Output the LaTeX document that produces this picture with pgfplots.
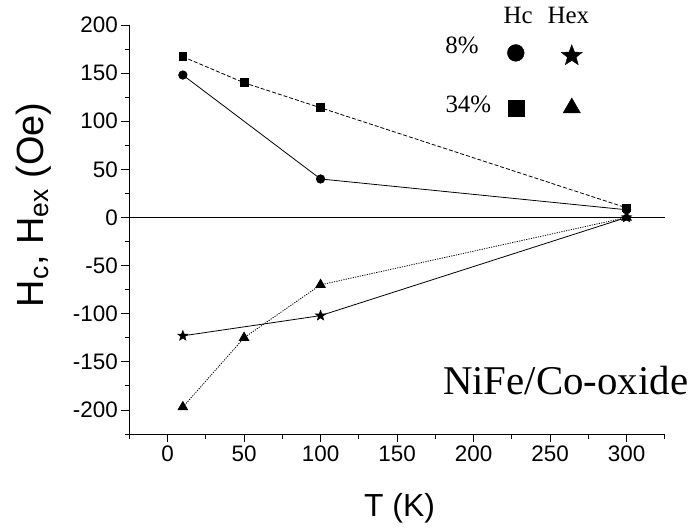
\documentclass[border=0pt]{standalone}
\usepackage{pgfplots}
\pgfplotsset{compat=1.18}
\usepackage{fontspec}
\setmainfont{Liberation Sans}
\newfontfamily\tnr{Liberation Serif}
\pgfdeclareplotmark{fstar}{%
  \pgfpathmoveto{\pgfpointpolar{90}{\pgfplotmarksize}}%
  \pgfpathlineto{\pgfpointpolar{126}{0.42\pgfplotmarksize}}%
  \pgfpathlineto{\pgfpointpolar{162}{\pgfplotmarksize}}%
  \pgfpathlineto{\pgfpointpolar{198}{0.42\pgfplotmarksize}}%
  \pgfpathlineto{\pgfpointpolar{234}{\pgfplotmarksize}}%
  \pgfpathlineto{\pgfpointpolar{270}{0.42\pgfplotmarksize}}%
  \pgfpathlineto{\pgfpointpolar{306}{\pgfplotmarksize}}%
  \pgfpathlineto{\pgfpointpolar{342}{0.42\pgfplotmarksize}}%
  \pgfpathlineto{\pgfpointpolar{18}{\pgfplotmarksize}}%
  \pgfpathlineto{\pgfpointpolar{54}{0.42\pgfplotmarksize}}%
  \pgfpathclose
  \pgfusepathqfillstroke
}
\begin{document}
\begin{tikzpicture}
\useasboundingbox (-129.3bp,-96bp) rectangle (567.7bp,434bp);
\begin{axis}[
  scale only axis, width=535.5bp, height=409bp,
  xmin=-25, xmax=325, ymin=-225, ymax=200,
  axis x line=bottom, axis y line=left,
  axis line style={-, line width=0.8bp},
  xtick={0,50,...,300}, minor xtick={-25,25,...,325},
  ytick={-200,-150,...,200}, minor ytick={-225,-175,...,175},
  tick align=outside, major tick length=8bp, minor tick length=4.5bp,
  every tick/.style={black, line width=0.8bp},
  ticklabel style={font=\fontsize{22.5}{26}\selectfont},
  /pgf/number format/assume math mode=true,
  xlabel={T (K)}, ylabel={H$_{\mathrm{c}}$, H$_{\mathrm{ex}}$ (Oe)},
  xlabel style={at={(axis description cs:0.5046,-0.202)}, anchor=base, font=\fontsize{32}{36}\selectfont},
  ylabel style={at={(axis description cs:-0.161,0.56)}, anchor=base, font=\fontsize{38}{42}\selectfont},
  clip=false,
]
\addplot[black, line width=0.8bp] coordinates {(-25,0) (325,0)};
% 8% Hc
\addplot[black, line width=0.8bp, mark=*, mark size=4.2bp] coordinates {(10,148) (100,40) (300,8)};
% 34% Hc
\addplot[black, line width=0.8bp, dash pattern=on 4bp off 2bp, mark=square*, mark size=3.9bp, mark options={solid}] coordinates {(10,167) (50,140) (100,114) (300,10)};
% 8% Hex
\addplot[black, line width=0.8bp, mark=fstar, mark size=5.5bp, mark options={solid, line width=0.4bp}] coordinates {(10,-123) (100,-102) (300,0)};
% 34% Hex
\addplot[black, line width=0.8bp, dash pattern=on 1.2bp off 1.2bp, mark=triangle*, mark size=5.5bp, mark options={solid}] coordinates {(10,-197) (50,-125) (100,-70) (300,0)};
% legend symbols
\addplot[only marks, black, mark=*, mark size=8.4bp] coordinates {(227.6,171)};
\addplot[only marks, black, mark=fstar, mark size=11bp, mark options={line width=0.4bp}] coordinates {(264.2,168)};
\addplot[only marks, black, mark=square*, mark size=8bp] coordinates {(227.6,113.8)};
\addplot[only marks, black, mark=triangle*, mark size=10bp] coordinates {(264.2,113.8)};
\node[anchor=base, font=\tnr\fontsize{25}{28}\selectfont, inner sep=0pt] at (axis cs:229.2,201.2) {Hc};
\node[anchor=base, font=\tnr\fontsize{25}{28}\selectfont, inner sep=0pt] at (axis cs:262,201.2) {Hex};
\node[anchor=center, font=\tnr\fontsize{25}{28}\selectfont, inner sep=0pt] at (axis cs:192.4,178.8) {8\%};
\node[anchor=center, font=\tnr\fontsize{25}{28}\selectfont, inner sep=0pt] at (axis cs:196.6,118) {34\%};
\node[anchor=west, font=\tnr\fontsize{41}{45}\selectfont, inner sep=0pt] at (axis cs:180,-169) {NiFe/Co-oxide};
\end{axis}
\end{tikzpicture}
\end{document}
